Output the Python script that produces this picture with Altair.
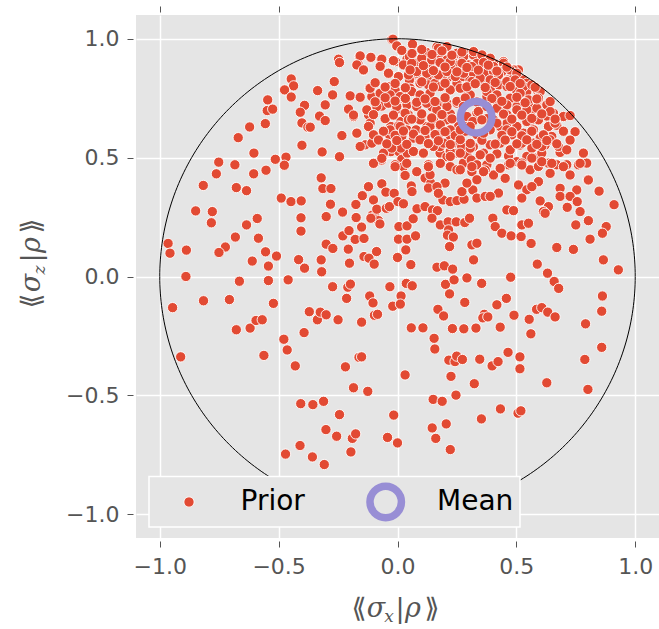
import altair as alt
import pandas as pd
import numpy as np

# ---------------- data ----------------
lower = [(-0.89,0.00),(-0.946,-0.131),(-0.816,-0.102),(-0.707,-0.097),(-0.665,-0.02),(-0.543,-0.017),(-0.46,-0.014),(-0.522,-0.113),(-0.678,-0.224),(-0.62,-0.217),(-0.595,-0.185),(-0.569,-0.182),(-0.912,-0.338),(-0.562,-0.332),(-0.478,-0.264),(-0.464,-0.309),(-0.43,-0.376),(-0.393,-0.236),(-0.371,-0.148),(-0.337,-0.182),(-0.325,-0.15),(-0.3,-0.161),(-0.25,-0.182),(-0.273,-0.043),(-0.209,-0.045),(-0.198,-0.032),(-0.214,-0.092),(-0.151,-0.192),(-0.117,-0.082),(-0.103,-0.111),(-0.097,-0.163),(-0.084,-0.159),(-0.032,-0.043),(0.015,-0.082),(-0.02,-0.125),(0.012,-0.116),(0.037,-0.029),(0.062,-0.039),(-0.219,-0.38),(-0.162,-0.34),(-0.151,-0.338),(-0.185,-0.468),(-0.125,-0.483),(-0.407,-0.535),(-0.356,-0.539),(-0.311,-0.525),(-0.244,-0.581),(-0.301,-0.644),(-0.256,-0.672),(-0.19,-0.681),(-0.176,-0.662),(-0.196,-0.738),(-0.41,-0.711),(-0.471,-0.747),(-0.358,-0.759),(-0.308,-0.791),(-0.042,-0.677),(0.0,-0.70),(-0.016,-0.583),(0.032,-0.414),(0.058,-0.216),(0.107,-0.216),(0.154,-0.26),(0.157,-0.305),(0.17,-0.138),(0.194,-0.166),(0.202,-0.033),(0.219,-0.073),(0.238,-0.014),(0.292,-0.006),(0.354,-0.029),(0.283,-0.109),(0.231,-0.219),(0.279,-0.22),(0.33,-0.217),(0.365,-0.159),(0.359,-0.174),(0.38,-0.17),(0.418,-0.119),(0.458,-0.092),(0.476,-0.003),(0.432,-0.213),(0.49,-0.163),(0.216,-0.352),(0.242,-0.358),(0.249,-0.335),(0.273,-0.349),(0.225,-0.42),(0.323,-0.451),(0.346,-0.348),(0.398,-0.376),(0.423,-0.358),(0.465,-0.319),(0.515,-0.338),(0.515,-0.388),(0.554,-0.18),(0.561,-0.241),(0.585,-0.138),(0.607,-0.131),(0.632,-0.15),(0.663,-0.17),(0.631,0.014),(0.659,-0.021),(0.678,-0.05),(0.628,-0.447),(0.791,-0.199),(0.862,-0.082),(0.859,-0.146),(0.788,-0.349),(0.859,-0.298),(0.801,-0.475),(0.929,0.028),(0.15,-0.517),(0.188,-0.525),(0.246,-0.499),(0.353,-0.599),(0.433,-0.557),(0.507,-0.575),(0.519,-0.565),(0.205,-0.62),(0.146,-0.637),(0.161,-0.681),(0.222,-0.728)]

upper_left = [(-0.447,0.831),(-0.437,0.802),(-0.475,0.785),(-0.447,0.755),(-0.546,0.743),(-0.548,0.698),(-0.525,0.704),(-0.391,0.72),(-0.409,0.691),(-0.402,0.646),(-0.377,0.628),(-0.556,0.643),(-0.622,0.629),(-0.67,0.584),(-0.402,0.552),(-0.604,0.519),(-0.514,0.493),(-0.469,0.502),(-0.476,0.468),(-0.752,0.481),(-0.684,0.47),(-0.762,0.432),(-0.605,0.432),(-0.553,0.447),(-0.817,0.383),(-0.678,0.374),(-0.635,0.361),(-0.489,0.33),(-0.448,0.315),(-0.405,0.318),(-0.849,0.276),(-0.779,0.273),(-0.783,0.226),(-0.59,0.244),(-0.635,0.217),(-0.406,0.247),(-0.406,0.191),(-0.682,0.166),(-0.585,0.161),(-0.724,0.124),(-0.751,0.101),(-0.965,0.139),(-0.957,0.098),(-0.888,0.111),(-0.555,0.104),(-0.509,0.086),(-0.611,0.065),(-0.543,0.044),(-0.416,0.071),(-0.391,0.035)]

middle = [(-0.317,0.524),(-0.244,0.504),(-0.321,0.415),(-0.314,0.37),(-0.28,0.37),(-0.282,0.304),(-0.3,0.252),(-0.231,0.271),(-0.321,0.07),(-0.319,0.02),(-0.3,0.136),(-0.272,0.118),(-0.207,0.115),(-0.202,0.056),(-0.141,0.084),(-0.12,0.077),(-0.098,0.052),(-0.088,0.105),(-0.23,0.171),(-0.204,0.193),(-0.178,0.156),(-0.141,0.16),(-0.151,0.208),(-0.174,0.248),(-0.175,0.303),(-0.148,0.34),(-0.122,0.378),(-0.101,0.322),(-0.106,0.258),(-0.095,0.252),(-0.08,0.235),(-0.074,0.221),(-0.112,0.245),(-0.087,0.283),(-0.047,0.287),(-0.034,0.294),(-0.066,0.39),(-0.049,0.355),(-0.014,0.35),(0.002,0.315),(0.025,0.306),(-0.097,0.477),(-0.067,0.49),(-0.028,0.525),(0.006,0.525),(0.018,0.493),(0.041,0.519),(0.071,0.525),(0.109,0.519),(-0.01,0.47),(0.025,0.462),(0.032,0.425),(0.058,0.381),(0.061,0.357),(0.006,0.21),(0.04,0.213),(0.004,0.157),(0.04,0.157),(0.076,0.171),(0.035,0.112),(0.0,0.08),(0.056,0.05),(0.066,0.243),(0.082,0.285),(0.116,0.294),(0.147,0.28),(0.168,0.277),(0.145,0.245),(0.18,0.217),(0.213,0.23),(0.247,0.23),(0.283,0.227),(0.303,0.245),(0.215,0.196),(0.21,0.174),(0.235,0.166),(0.219,0.126),(0.166,0.039),(0.197,0.045),(0.232,0.031),(0.313,0.133),(0.334,0.14),(0.32,0.07),(0.191,0.322),(0.222,0.315),(0.25,0.319),(0.28,0.325),(0.271,0.357),(0.317,0.364),(0.334,0.33),(0.292,0.393),(0.2,0.393),(0.116,0.414),(0.14,0.393),(0.13,0.372),(0.166,0.378),(0.172,0.35),(0.13,0.47),(0.137,0.428),(0.179,0.519),(0.208,0.504),(0.222,0.462),(0.25,0.519),(0.25,0.449),(0.277,0.477),(0.292,0.512),(0.31,0.49),(0.313,0.441),(0.334,0.47),(0.334,0.407)]

upper_mid = [(-0.024,0.998),(-0.003,0.97),(0.063,0.977),(-0.248,0.914),(-0.244,0.9),(-0.16,0.925),(-0.166,0.893),(-0.112,0.92),(-0.143,0.869),(-0.069,0.914),(-0.019,0.908),(-0.008,0.904),(-0.036,0.855),(0.04,0.915),(0.05,0.925),(0.053,0.883),(0.081,0.897),(0.109,0.911),(0.124,0.941),(0.166,0.966),(0.17,0.946),(0.179,0.911),(0.137,0.883),(0.154,0.855),(0.187,0.855),(0.053,0.827),(0.06,0.841),(0.081,0.855),(0.116,0.862),(0.124,0.834),(0.095,0.813),(0.13,0.806),(0.158,0.813),(0.179,0.848),(0.187,0.799),(0.208,0.834),(0.222,0.855),(0.222,0.785),(0.25,0.813),(0.277,0.841),(0.284,0.792),(0.305,0.827),(0.319,0.855),(0.235,0.925),(0.27,0.925),(0.292,0.939),(0.319,0.932),(0.257,0.89),(0.299,0.89),(0.334,0.897),(0.208,0.911),(0.222,0.883),(0.277,0.869),(-0.336,0.782),(-0.266,0.82),(-0.273,0.764),(-0.304,0.722),(-0.328,0.675),(-0.304,0.656),(-0.367,0.628),(-0.199,0.76),(-0.157,0.754),(-0.206,0.704),(-0.185,0.673),(-0.234,0.593),(-0.171,0.603),(-0.122,0.68),(-0.115,0.645),(-0.118,0.792),(-0.108,0.757),(-0.073,0.743),(-0.066,0.717),(-0.076,0.588),(-0.136,0.554),(-0.034,0.799),(-0.01,0.785),(0.011,0.75),(0.025,0.757),(-0.031,0.757),(-0.005,0.701),(0.04,0.722),(0.05,0.827),(0.053,0.792),(0.078,0.729),(0.102,0.757),(0.125,0.76),(0.144,0.714),(0.172,0.729),(0.208,0.729),(0.222,0.684),(0.179,0.683),(0.151,0.659),(0.099,0.659),(0.046,0.68),(0.014,0.652),(-0.028,0.631),(-0.034,0.596),(0.004,0.633),(0.04,0.617),(0.078,0.617),(0.124,0.631),(0.179,0.633),(0.208,0.659),(0.257,0.631),(0.292,0.631),(0.334,0.687),(-0.003,0.582),(0.014,0.54),(0.067,0.582),(0.116,0.588),(0.172,0.596),(0.222,0.588),(0.179,0.546),(0.235,0.561),(0.27,0.546),(0.319,0.546)]

upper_right = [(0.362,0.925),(0.404,0.897),(0.446,0.904),(0.488,0.869),(0.509,0.869),(0.368,0.855),(0.404,0.862),(0.439,0.862),(0.467,0.827),(0.488,0.834),(0.53,0.827),(0.544,0.778),(0.593,0.785),(0.362,0.813),(0.391,0.785),(0.426,0.806),(0.461,0.799),(0.502,0.778),(0.376,0.757),(0.411,0.743),(0.474,0.743),(0.502,0.715),(0.551,0.722),(0.593,0.743),(0.621,0.715),(0.432,0.7),(0.461,0.68),(0.516,0.687),(0.558,0.687),(0.6,0.7),(0.656,0.687),(0.698,0.673),(0.747,0.609),(0.404,0.659),(0.432,0.631),(0.461,0.645),(0.502,0.631),(0.558,0.652),(0.6,0.666),(0.642,0.645),(0.481,0.596),(0.53,0.603),(0.572,0.617),(0.6,0.582),(0.649,0.589),(0.677,0.547),(0.432,0.567),(0.516,0.553),(0.572,0.561),(0.621,0.553),(0.67,0.636),(0.628,0.675)]

right_mid = [(0.362,0.519),(0.418,0.516),(0.467,0.507),(0.502,0.483),(0.544,0.505),(0.579,0.498),(0.607,0.519),(0.376,0.47),(0.432,0.456),(0.467,0.47),(0.523,0.477),(0.558,0.449),(0.593,0.463),(0.635,0.477),(0.67,0.47),(0.712,0.47),(0.761,0.47),(0.796,0.477),(0.782,0.519),(0.684,0.522),(0.726,0.427),(0.642,0.434),(0.593,0.399),(0.509,0.385),(0.453,0.413),(0.404,0.427),(0.369,0.448),(0.544,0.365),(0.565,0.378),(0.523,0.33),(0.425,0.351),(0.369,0.337),(0.39,0.337),(0.684,0.371),(0.754,0.364),(0.684,0.337),(0.726,0.337),(0.756,0.315),(0.6,0.318),(0.635,0.294),(0.614,0.273),(0.621,0.266),(0.46,0.28),(0.488,0.277),(0.714,0.291),(0.768,0.273),(0.848,0.359),(0.8,0.406),(0.911,0.302),(0.401,0.245),(0.411,0.21),(0.439,0.182),(0.478,0.171),(0.52,0.168),(0.523,0.217),(0.551,0.224),(0.562,0.139),(0.67,0.122),(0.74,0.114),(0.75,0.217),(0.803,0.235),(0.878,0.21),(0.862,0.182),(0.81,0.157),(0.866,0.07),(0.588,0.052)]

core = [(-0.019,0.998),(-0.003,0.97),(0.063,0.977),(0.123,0.942),(0.172,0.96),(0.208,0.967),(0.25,0.939),(0.278,0.925),(0.32,0.946),(0.355,0.932),(0.39,0.918),(0.446,0.897),(0.488,0.869),(0.53,0.827),(-0.157,0.928),(-0.112,0.922),(-0.066,0.914),(-0.017,0.908),(0.025,0.89),(0.06,0.897),(0.102,0.918),(0.144,0.911),(0.179,0.9),(0.222,0.904),(0.271,0.897),(0.313,0.883),(0.362,0.9),(0.404,0.883),(0.439,0.862),(0.474,0.869),(0.502,0.855),(0.544,0.813),(0.586,0.785),(-0.171,0.89),(-0.143,0.869),(-0.038,0.855),(0.004,0.841),(0.046,0.848),(0.081,0.862),(0.123,0.855),(0.172,0.848),(0.208,0.862),(0.243,0.841),(0.278,0.855),(0.313,0.82),(0.348,0.834),(0.39,0.827),(0.425,0.848),(0.46,0.82),(0.495,0.827),(0.53,0.799),(0.565,0.806),(0.6,0.778),(-0.115,0.792),(-0.073,0.771),(-0.031,0.764),(0.011,0.757),(0.06,0.778),(0.095,0.764),(0.137,0.771),(0.18,0.799),(0.222,0.785),(0.264,0.792),(0.306,0.764),(0.376,0.778),(0.418,0.764),(0.474,0.75),(0.516,0.771),(0.551,0.743),(0.593,0.75),(0.628,0.722),(-0.185,0.679),(-0.129,0.701),(-0.087,0.715),(-0.038,0.729),(-0.003,0.715),(0.032,0.687),(0.081,0.715),(0.123,0.729),(0.165,0.701),(0.208,0.715),(0.25,0.729),(0.418,0.708),(0.46,0.722),(0.502,0.701),(0.544,0.701),(0.586,0.708),(0.642,0.694),(0.698,0.673),(0.747,0.609),(-0.171,0.603),(-0.122,0.631),(-0.08,0.588),(-0.031,0.617),(0.011,0.631),(0.046,0.659),(0.095,0.659),(0.137,0.631),(0.18,0.638),(0.222,0.617),(0.264,0.588),(0.418,0.645),(0.46,0.617),(0.502,0.631),(0.544,0.652),(0.593,0.659),(0.635,0.631),(0.663,0.645),(-0.157,0.547),(-0.108,0.561),(-0.059,0.519),(-0.024,0.54),(0.018,0.589),(0.067,0.526),(0.109,0.519),(0.151,0.547),(0.194,0.561),(0.222,0.526),(0.264,0.519),(0.306,0.54),(0.348,0.512),(0.39,0.554),(0.432,0.561),(0.474,0.533),(0.523,0.561),(0.565,0.54),(0.607,0.547),(0.642,0.575),(0.677,0.547),(0.712,0.533),(0.782,0.519),(-0.101,0.476),(-0.066,0.497),(-0.01,0.462),(0.039,0.476),(0.081,0.441),(0.13,0.462),(0.18,0.476),(0.222,0.505),(0.264,0.449),(0.313,0.462),(0.362,0.441),(0.39,0.498),(0.432,0.455),(0.474,0.476),(0.523,0.469),(0.565,0.498),(0.607,0.483),(0.649,0.476),(0.698,0.462),(0.768,0.476),(0.803,0.406)]

# second pass over the packed cluster (points between the first-pass ones)
core_fill = [(0.018,0.951),(0.061,0.938),(0.102,0.955),(0.145,0.934),(0.187,0.949),(0.229,0.931),(0.271,0.944),
(-0.073,0.884),(0.053,0.869),(0.109,0.887),(0.151,0.866),(0.2,0.881),(0.25,0.861),(0.292,0.879),(0.34,0.868),(0.382,0.889),(0.418,0.864),(0.46,0.881),
(-0.094,0.815),(-0.052,0.797),(-0.01,0.812),(0.033,0.794),(0.102,0.819),(0.151,0.797),(0.2,0.813),(0.292,0.798),(0.327,0.811),(0.369,0.795),(0.411,0.816),(0.474,0.799),(0.516,0.812),(0.579,0.796),
(-0.094,0.735),(-0.052,0.752),(-0.01,0.738),(0.033,0.749),(0.081,0.733),(0.116,0.747),(0.158,0.736),(0.2,0.752),(0.25,0.737),(0.285,0.751),(0.334,0.734),(0.397,0.749),(0.439,0.737),(0.502,0.754),(0.537,0.731),(0.586,0.747),(0.642,0.736),
(-0.101,0.681),(-0.052,0.664),(-0.017,0.679),(0.06,0.662),(0.102,0.684),(0.144,0.667),(0.187,0.681),(0.229,0.663),(0.278,0.679),(0.376,0.664),(0.446,0.683),(0.481,0.662),(0.523,0.679),(0.565,0.665),(0.607,0.684),(0.663,0.662),(0.726,0.677),
(-0.101,0.596),(-0.059,0.611),(-0.01,0.594),(0.025,0.612),(0.067,0.599),(0.116,0.614),(0.158,0.597),(0.2,0.609),(0.243,0.593),(0.285,0.611),(0.334,0.597),(0.376,0.613),(0.439,0.594),(0.481,0.609),(0.523,0.592),(0.565,0.611),(0.614,0.596),(0.698,0.611),
(-0.08,0.574),(-0.045,0.558),(-0.003,0.572),(0.039,0.556),(0.095,0.575),(0.13,0.559),(0.172,0.571),(0.222,0.555),(0.264,0.576),(0.306,0.56),(0.355,0.573),(0.411,0.557),(0.453,0.574),(0.502,0.558),(0.544,0.575),(0.586,0.556),(0.628,0.572),(0.67,0.558),(0.726,0.574)]

near_mean = [(0.292,0.673),(0.317,0.652),(0.34,0.694),(0.355,0.659),(0.306,0.631),(0.277,0.715),(0.376,0.715),(0.39,0.617),(0.264,0.617),(0.362,0.603)]

mean_x = [0.331]
mean_y = [0.670]

tick_values = [-1.0, -0.5, 0.0, 0.5, 1.0]
legend_labels = ["Prior", "Mean"]

prior = lower + upper_left + middle + upper_mid + upper_right + right_mid + core + core_fill + near_mean
df = pd.DataFrame(prior, columns=["x", "y"])
df_mean = pd.DataFrame({"x": mean_x, "y": mean_y})

theta = np.linspace(0, 2 * np.pi, 361)
df_circle = pd.DataFrame({"x": np.cos(theta), "y": np.sin(theta), "i": np.arange(361)})

# ---------------- styling ----------------
RED = "#E24A33"
PURPLE = "#988ED5"
GRAY = "#555555"
W, H = 523, 523
PAD = {"left": 136, "top": 15, "right": 0, "bottom": 91}
PT_SIZE = 106

xs = alt.Scale(domain=[-1.1, 1.1], nice=False, zero=False)
ys = alt.Scale(domain=[-1.1, 1.1], nice=False, zero=False)

common_axis = dict(values=tick_values, format=".1f", title=None, domain=False,
                   tickSize=6, tickColor=GRAY, tickWidth=1, offset=3,
                   labelFont="DejaVu Sans", labelFontSize=22, labelColor=GRAY,
                   grid=True, gridColor="white", gridWidth=1.5)

x_axis = alt.Axis(orient="bottom", labelPadding=9, **common_axis)
y_axis = alt.Axis(orient="left", labelPadding=8, **common_axis)
x_top = alt.Axis(orient="top", values=tick_values, labels=False, title=None, domain=False,
                 tickSize=6, tickColor=GRAY, tickWidth=1, offset=3, grid=False)

Y = alt.Y("y:Q", scale=ys, axis=y_axis)

points = alt.Chart(df).mark_circle(size=PT_SIZE, color=RED, opacity=1, stroke="white",
                                   strokeWidth=0.9).encode(
    x=alt.X("x:Q", scale=xs, axis=x_axis), y=Y)

top_ticks = alt.Chart(df_mean).mark_circle(opacity=0).encode(
    x=alt.X("x:Q", scale=xs, axis=x_top), y=Y)

circle = alt.Chart(df_circle).mark_line(color="black", strokeWidth=1).encode(
    x=alt.X("x:Q", scale=xs, axis=None), y=Y, order="i:Q")

mean = alt.Chart(df_mean).mark_point(shape="circle", size=990, filled=False,
                                     stroke=PURPLE, strokeWidth=7.5, opacity=1).encode(
    x=alt.X("x:Q", scale=xs, axis=None), y=Y)

one = pd.DataFrame({"k": [0]})


def txt(s, x, y, size, italic=False, angle=0, font="DejaVu Serif", color=GRAY,
        align="center", baseline="alphabetic"):
    kw = dict(text=s, fontSize=size, font=font, color=color, align=align, baseline=baseline)
    if italic:
        kw["fontStyle"] = "italic"
    if angle:
        kw["angle"] = angle
    return alt.Chart(one).mark_text(**kw).encode(x=alt.value(x), y=alt.value(y))


# legend (drawn inside the plot, lower left)
leg_box = alt.Chart(one).mark_rect(fill="#E5E5E5", stroke="white", strokeWidth=1.5).encode(
    x=alt.value(13), x2=alt.value(384), y=alt.value(461.5), y2=alt.value(512))
leg_dot = alt.Chart(one).mark_circle(size=PT_SIZE, color=RED, opacity=1, stroke="white",
                                     strokeWidth=0.9).encode(x=alt.value(53), y=alt.value(487))
leg_ring = alt.Chart(one).mark_point(shape="circle", size=990, filled=False, stroke=PURPLE,
                                     strokeWidth=7.5, opacity=1).encode(x=alt.value(249.7), y=alt.value(487))
leg_t1 = txt(legend_labels[0], 104.5, 487, 28, font="DejaVu Sans", color="black",
             align="left", baseline="middle")
leg_t2 = txt(legend_labels[1], 301, 487, 28, font="DejaVu Sans", color="black",
             align="left", baseline="middle")

# axis titles  ⟪σx|ρ⟫  and  ⟪σz|ρ⟫
FS, FSS = 27, 17
xt_base = 602
xt = [
    txt("⟪", 223, xt_base, FS, font="DejaVu Sans"),
    txt("σ", 240, xt_base, FS, italic=True),
    txt("x", 253, xt_base + 5, FSS, italic=True),
    txt("|", 264, xt_base, FS, font="DejaVu Sans"),
    txt("ρ", 277, xt_base, FS, italic=True),
    txt("⟫", 296, xt_base, FS, font="DejaVu Sans"),
]
yt_base = -96
yt = [
    txt("⟪", yt_base, 286, FS, angle=270, font="DejaVu Sans"),
    txt("σ", yt_base, 268, FS, italic=True, angle=270),
    txt("z", yt_base + 5, 255, FSS, italic=True, angle=270),
    txt("|", yt_base, 243, FS, angle=270, font="DejaVu Sans"),
    txt("ρ", yt_base, 230, FS, italic=True, angle=270),
    txt("⟫", yt_base, 211, FS, angle=270, font="DejaVu Sans"),
]

chart = alt.layer(
    points, top_ticks, circle, mean, leg_box, leg_dot, leg_ring, leg_t1, leg_t2, *xt, *yt
).resolve_axis(x="independent").properties(
    width=W, height=H,
    autosize=alt.AutoSizeParams(type="none"),
    padding=PAD,
    background="white",
).configure_view(fill="#E5E5E5", strokeWidth=0)

chart.save("out.html", embed_options={"renderer": "svg", "actions": False})
